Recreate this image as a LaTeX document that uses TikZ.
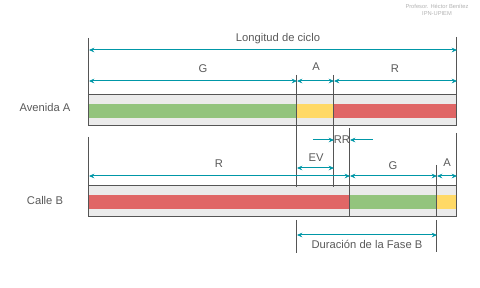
\documentclass[tikz,border=0pt]{standalone}
\usepackage{fontspec}
\setmainfont{Liberation Sans}
\usetikzlibrary{arrows.meta}
\definecolor{lblgray}{HTML}{595959}
\definecolor{linegray}{HTML}{555555}
\definecolor{boxgray}{HTML}{EBEBEB}
\definecolor{arrteal}{HTML}{0097A7}
\definecolor{sgreen}{HTML}{93C47D}
\definecolor{syellow}{HTML}{FFD966}
\definecolor{sred}{HTML}{E06666}
\tikzset{
  dimline/.style={draw=arrteal, line width=0.75pt, {Stealth[length=4pt,width=3.5pt]}-{Stealth[length=4pt,width=3.5pt]}},
  oneway/.style={draw=arrteal, line width=0.75pt, -{Stealth[length=4pt,width=3.5pt]}},
  tickline/.style={draw=linegray, line width=0.75pt},
  rowbox/.style={fill=boxgray, draw=linegray, line width=0.75pt},
  lbl/.style={text=lblgray, font=\fontsize{8.4}{10}\selectfont, inner sep=0pt}
}
\begin{document}
\begin{tikzpicture}[x=0.75pt,y=-0.75pt]
\useasboundingbox (0,0) rectangle (480,288);

\node[text=black!30, font=\fontsize{4.3}{5}\selectfont, align=center, inner sep=0pt] (autor) at (437,10) {Profesor. Héctor Benítez\\IPN-UPIEM};

% Avenida A
\draw[rowbox] (89,95) rectangle (457,126);
\fill[sgreen] (89,104) rectangle (297,118);
\fill[syellow] (297,104) rectangle (334,118);
\fill[sred] (334,104) rectangle (457,118);
\node[lbl] (avA) at (45,108) {Avenida A};

% Calle B
\draw[rowbox] (89,186) rectangle (457,217);
\fill[sred] (89,195) rectangle (350,209);
\fill[sgreen] (350,195) rectangle (437,209);
\fill[syellow] (437,195) rectangle (457,209);
\node[lbl] (calB) at (45,201) {Calle B};

% marcas verticales
\coordinate (a0) at (89,38);   \coordinate (a0b) at (89,126);
\coordinate (a4) at (457,37);  \coordinate (a4b) at (457,126);
\coordinate (a1) at (297,75);  \coordinate (a1b) at (297,187);
\coordinate (a2) at (334,75);  \coordinate (a2b) at (334,187);
\coordinate (b2) at (350,128); \coordinate (b2b) at (350,217);
\coordinate (b0) at (89,137);  \coordinate (b0b) at (89,217);
\coordinate (b4) at (457,133); \coordinate (b4b) at (457,217);
\coordinate (b3) at (437,165); \coordinate (b3b) at (437,217);
\coordinate (f0) at (297,220); \coordinate (f0b) at (297,253);
\coordinate (f1) at (437,220); \coordinate (f1b) at (437,252);
\foreach \t in {a0,a4,a1,a2,b2,b0,b4,b3,f0,f1}
  \draw[tickline] (\t) -- (\t b);

% cotas
\draw[dimline] (89,50) -- (457,50);
\node[lbl] (ciclo) at (278,39) {Longitud de ciclo};

\draw[dimline] (89,81) -- (297,81);
\draw[dimline] (297,81) -- (334,81);
\draw[dimline] (334,81) -- (457,81);
\node[lbl] (gA) at (203,69) {G};
\node[lbl] (aA) at (316,67) {A};
\node[lbl] (rA) at (395,69) {R};

\draw[oneway] (313,140) -- (334,140);
\draw[oneway] (373,140) -- (350,140);
\node[lbl] (rr) at (342,140) {RR};

\draw[dimline] (297,168) -- (334,168);
\node[lbl] (ev) at (316,158) {EV};

\draw[dimline] (89,176) -- (350,176);
\draw[dimline] (350,176) -- (437,176);
\draw[dimline] (437,176) -- (457,176);
\node[lbl] (rB) at (219,164) {R};
\node[lbl] (gB) at (393,166) {G};
\node[lbl] (aB) at (447,163) {A};

\draw[dimline] (297,235) -- (437,235);
\node[lbl] (fase) at (367,244) {Duración de la Fase B};
\end{tikzpicture}
\end{document}
